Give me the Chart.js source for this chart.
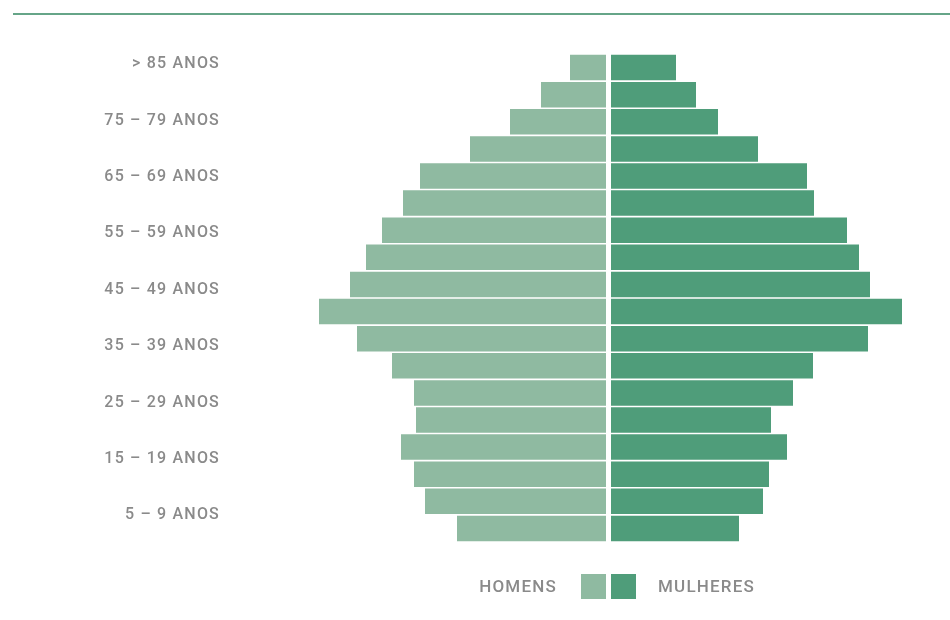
<!DOCTYPE html>
<html>
<head>
<meta charset="utf-8">
<script src="https://cdn.jsdelivr.net/npm/chart.js@4"></script>
<style>
  html, body { margin: 0; padding: 0; background: #ffffff; }
  #wrap { position: relative; width: 950px; height: 620px; overflow: hidden; }
  #topline { position: absolute; left: 13px; right: 0; top: 13px; height: 2px; background: #66a588; }
  #chart { position: absolute; left: 0; top: 0; }
  .leg-text { position: absolute; top: 574px; height: 25px; line-height: 25px;
              font-family: Roboto, sans-serif; font-weight: 500; font-size: 17px;
              letter-spacing: 1.2px; color: #8a8a8a; }
  .leg-box { position: absolute; top: 574px; width: 25px; height: 25px; }
</style>
</head>
<body>
<div id="wrap">
  <div id="topline"></div>
  <canvas id="chart" width="950" height="620"></canvas>
  <div class="leg-text" style="right: 393px;">HOMENS</div>
  <div class="leg-box" style="left: 581px; background: #8fbaa1;"></div>
  <div class="leg-box" style="left: 611px; background: #4f9d7a;"></div>
  <div class="leg-text" style="left: 658px;">MULHERES</div>
</div>
<script>
// faixas etárias, de cima para baixo
const faixas = ['> 85 ANOS', '80 – 84 ANOS', '75 – 79 ANOS', '70 – 74 ANOS', '65 – 69 ANOS', '60 – 64 ANOS',
  '55 – 59 ANOS', '50 – 54 ANOS', '45 – 49 ANOS', '40 – 44 ANOS', '35 – 39 ANOS', '30 – 34 ANOS',
  '25 – 29 ANOS', '20 – 24 ANOS', '15 – 19 ANOS', '10 – 14 ANOS', '5 – 9 ANOS', '0 – 4 ANOS'];

// rótulos exibidos no eixo (um sim, um não)
const rotulosEixo = ['> 85 ANOS', '75 – 79 ANOS', '65 – 69 ANOS', '55 – 59 ANOS', '45 – 49 ANOS',
  '35 – 39 ANOS', '25 – 29 ANOS', '15 – 19 ANOS', '5 – 9 ANOS'];

const homens = [36, 65, 96, 136, 186, 203, 224, 240, 256, 287, 249, 214, 192, 190, 205, 192, 181, 149];
const mulheres = [65, 85, 107, 147, 196, 203, 236, 248, 259, 291, 257, 202, 182, 160, 176, 158, 152, 128];

const corHomens = '#8fbaa1';
const corMulheres = '#4f9d7a';
const corTexto = '#8a8a8a';

// o canvas perde o estado ao ser redimensionado, então o espaçamento vai num plugin
const espacamento = {
  id: 'espacamento',
  beforeDraw: (chart) => { chart.ctx.letterSpacing = '1.2px'; }
};

new Chart(document.getElementById('chart'), {
  type: 'bar',
  data: {
    labels: faixas,
    datasets: [
      {
        label: 'HOMENS',
        data: homens.map(v => -v),
        xAxisID: 'xh',
        stack: 'piramide',
        backgroundColor: corHomens,
        borderWidth: 0,
        inflateAmount: 0
      },
      {
        label: 'MULHERES',
        data: mulheres,
        xAxisID: 'xm',
        stack: 'piramide',
        backgroundColor: corMulheres,
        borderWidth: 0,
        inflateAmount: 0
      }
    ]
  },
  plugins: [espacamento],
  options: {
    indexAxis: 'y',
    responsive: false,
    animation: false,
    layout: { padding: { top: 54, bottom: 78, left: 0, right: 10 } },
    datasets: { bar: { categoryPercentage: 1, barPercentage: 0.94 } },
    plugins: { legend: { display: false }, tooltip: { enabled: false } },
    scales: {
      // dois eixos x para deixar o vão branco no centro
      xh: { type: 'linear', position: 'bottom', stacked: true, display: false, min: -376, max: 334 },
      xm: { type: 'linear', position: 'bottom', stacked: true, display: false, min: -381, max: 329 },
      y: { stacked: true, display: false },
      // eixo só dos rótulos, com espaçamento próprio (não bate com as barras)
      rotulos: {
        type: 'linear',
        position: 'left',
        reverse: true,
        offset: false,
        bounds: 'data',
        min: -0.18,
        max: 8.47,
        grid: { display: false, drawTicks: false, offset: false },
        border: { display: false },
        afterBuildTicks: (scale) => {
          scale.ticks = rotulosEixo.map((_, i) => ({ value: i }));
        },
        afterFit: (scale) => { scale.width = 230; },
        ticks: {
          padding: 10,
          color: corTexto,
          font: { family: 'Roboto', size: 16, weight: '500' },
          callback: (v) => rotulosEixo[v] ?? ''
        }
      }
    }
  }
});
</script>
</body>
</html>
